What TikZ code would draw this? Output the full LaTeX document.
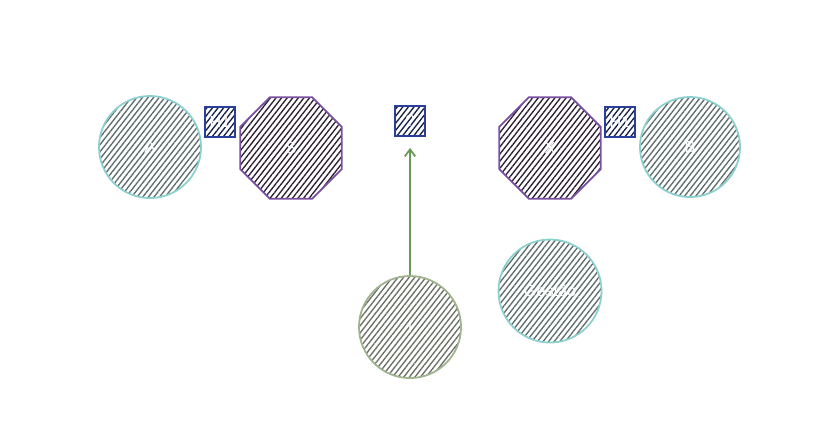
\documentclass[tikz,border=0pt]{standalone}
\usepackage{fontspec}
\setmainfont{Liberation Sans}
\usetikzlibrary{shapes.geometric,patterns.meta,arrows.meta}
\definecolor{tealb}{HTML}{8CCFCF}
\definecolor{purpb}{HTML}{7B4FA0}
\definecolor{blueb}{HTML}{2A3F9A}
\definecolor{greenb}{HTML}{9FB38F}
\definecolor{arrowc}{HTML}{6A9A5A}
\definecolor{hgrey}{HTML}{5E6B6B}
\definecolor{hdark}{HTML}{2A1E30}
\definecolor{hnavy}{HTML}{141F44}
\definecolor{hgreen}{HTML}{6A6F66}
\tikzset{
  lbl/.style={text=white,font=\fontsize{4.6}{5.5}\selectfont},
  hatch/.style={pattern={Lines[angle=52,distance=1.25pt,line width=0.38pt]},pattern color=#1},
  circnode/.style={circle,draw=#1,line width=0.5pt,inner sep=0pt,minimum size=1.02cm,lbl},
  octnode/.style={regular polygon,regular polygon sides=8,draw=purpb,line width=0.5pt,inner sep=0pt,minimum size=1.1cm,hatch=hdark,lbl},
  boxnode/.style={rectangle,draw=blueb,line width=0.5pt,inner sep=0pt,minimum width=0.3cm,minimum height=0.3cm,hatch=hnavy,lbl},
}
\begin{document}
\begin{tikzpicture}[x=0.01cm,y=-0.01cm]
\useasboundingbox (0,0) rectangle (827,444);
\node[circnode=tealb,hatch=hgrey] (A) at (150,147) {A};
\node[boxnode] (H1) at (220,122) {H1};
\node[octnode] (S) at (291,148) {S};
\node[boxnode] (Q) at (410,121) {?};
\node[octnode] (X) at (550,148) {X};
\node[boxnode] (H2) at (620,122) {H1};
\node[circnode=tealb,hatch=hgrey,minimum size=1.0cm] (B) at (690,147) {B};
\node[circnode=greenb,hatch=hgreen,minimum size=1.02cm] (I) at (410,327) {I};
\node[circnode=tealb,hatch=hgrey,minimum size=1.03cm] (G) at (550,291) {Gestão};
\draw[arrowc,line width=0.5pt,-{Straight Barb[length=2pt,width=3pt]},shorten >=0.11cm] (I) -- (Q);
\end{tikzpicture}
\end{document}
